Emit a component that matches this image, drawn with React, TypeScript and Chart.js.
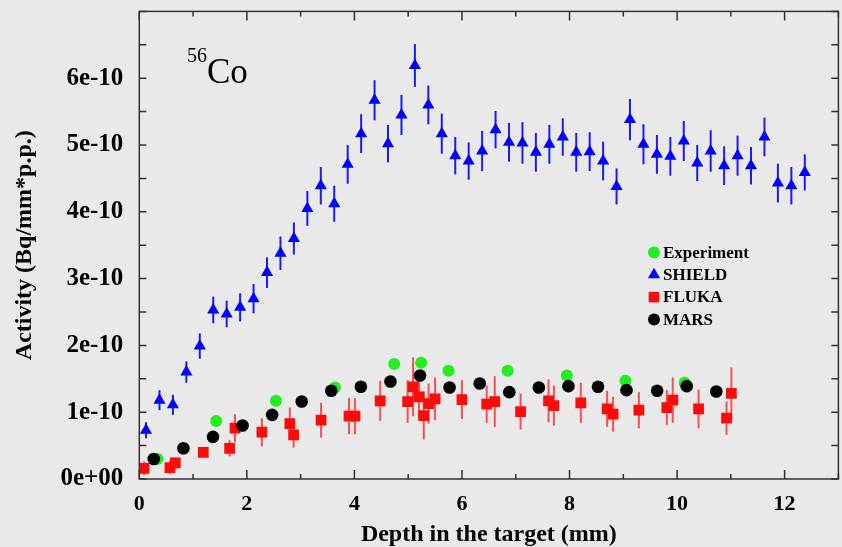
import React, { useEffect, useRef } from 'react';
import { Chart, registerables } from 'chart.js';

Chart.register(...registerables);

// Activity values are in units of 1e-10 Bq/mm per primary proton.

const experimentDepth = [0.34, 1.43, 2.54, 3.64, 4.74, 5.24, 5.75, 6.85, 7.95, 9.04, 10.14];
const experimentActivity = [0.30, 0.87, 1.17, 1.37, 1.72, 1.74, 1.62, 1.62, 1.55, 1.47, 1.44];

const shieldDepth = [
  0.125, 0.375, 0.625, 0.875, 1.125, 1.375, 1.625, 1.875, 2.125, 2.375,
  2.625, 2.875, 3.125, 3.375, 3.625, 3.875, 4.125, 4.375, 4.625, 4.875,
  5.125, 5.375, 5.625, 5.875, 6.125, 6.375, 6.625, 6.875, 7.125, 7.375,
  7.625, 7.875, 8.125, 8.375, 8.625, 8.875, 9.125, 9.375, 9.625, 9.875,
  10.125, 10.375, 10.625, 10.875, 11.125, 11.375, 11.625, 11.875, 12.125, 12.375,
];
const shieldActivity = [
  0.73, 1.18, 1.11, 1.60, 1.99, 2.53, 2.47, 2.57, 2.70, 3.09,
  3.38, 3.60, 4.05, 4.39, 4.12, 4.71, 5.17, 5.67, 5.02, 5.45,
  6.19, 5.60, 5.17, 4.84, 4.76, 4.91, 5.23, 5.04, 5.03, 4.89,
  5.01, 5.12, 4.89, 4.90, 4.76, 4.38, 5.38, 5.01, 4.86, 4.83,
  5.06, 4.73, 4.91, 4.69, 4.84, 4.69, 5.12, 4.43, 4.39, 4.59,
];
const shieldError = [
  0.12, 0.15, 0.15, 0.16, 0.19, 0.20, 0.20, 0.21, 0.22, 0.23,
  0.25, 0.24, 0.26, 0.28, 0.27, 0.29, 0.29, 0.30, 0.28, 0.30,
  0.32, 0.29, 0.30, 0.28, 0.28, 0.30, 0.28, 0.29, 0.31, 0.29,
  0.29, 0.28, 0.29, 0.29, 0.29, 0.27, 0.31, 0.30, 0.29, 0.29,
  0.30, 0.27, 0.31, 0.29, 0.30, 0.28, 0.29, 0.29, 0.28, 0.27,
];

const flukaDepth = [
  0.09, 0.57, 0.67, 1.19, 1.68, 1.78, 2.28, 2.80, 2.87, 3.38,
  3.90, 4.01, 4.48, 4.99, 5.09, 5.20, 5.29, 5.38, 5.50, 6.00,
  6.46, 6.61, 7.09, 7.61, 7.71, 8.21, 8.70, 8.81, 9.29, 9.81,
  9.92, 10.40, 10.92, 11.01,
];
const flukaActivity = [
  0.16, 0.17, 0.24, 0.40, 0.46, 0.76, 0.70, 0.83, 0.66, 0.88,
  0.94, 0.94, 1.17, 1.16, 1.38, 1.23, 0.95, 1.13, 1.20, 1.19,
  1.12, 1.16, 1.01, 1.17, 1.10, 1.14, 1.05, 0.97, 1.03, 1.07,
  1.18, 1.05, 0.91, 1.28,
];
const flukaError = [
  0.10, 0.10, 0.08, 0.06, 0.12, 0.21, 0.21, 0.24, 0.19, 0.26,
  0.27, 0.27, 0.30, 0.32, 0.44, 0.33, 0.36, 0.30, 0.32, 0.29,
  0.28, 0.38, 0.27, 0.32, 0.30, 0.30, 0.27, 0.26, 0.27, 0.26,
  0.34, 0.29, 0.25, 0.39,
];

const marsDepth = [
  0.27, 0.82, 1.37, 1.92, 2.47, 3.02, 3.57, 4.12, 4.67, 5.22,
  5.77, 6.33, 6.88, 7.43, 7.98, 8.53, 9.06, 9.63, 10.18, 10.73,
];
const marsActivity = [
  0.30, 0.46, 0.63, 0.80, 0.96, 1.16, 1.32, 1.38, 1.46, 1.55,
  1.37, 1.43, 1.30, 1.37, 1.39, 1.38, 1.33, 1.32, 1.39, 1.31,
];

const legendItems = [
  { label: 'Experiment', shape: 'circle', color: '#22ee22' },
  { label: 'SHIELD', shape: 'triangle', color: '#0000ff' },
  { label: 'FLUKA', shape: 'square', color: '#ff0a0a' },
  { label: 'MARS', shape: 'circle', color: '#000000' },
];

const SERIF = "'Liberation Serif', 'Times New Roman', serif";

function points(xs: number[], ys: number[]) {
  return xs.map((x, i) => ({ x, y: ys[i] }));
}

function drawShape(ctx: CanvasRenderingContext2D, shape: string, cx: number, cy: number, color: string) {
  ctx.fillStyle = color;
  ctx.beginPath();
  if (shape === 'circle') {
    ctx.arc(cx, cy, 6, 0, Math.PI * 2);
  } else if (shape === 'triangle') {
    ctx.moveTo(cx, cy - 7);
    ctx.lineTo(cx + 6.1, cy + 3.5);
    ctx.lineTo(cx - 6.1, cy + 3.5);
    ctx.closePath();
  } else {
    ctx.rect(cx - 5.3, cy - 5.3, 10.6, 10.6);
  }
  ctx.fill();
}

export default function App() {
  const canvasRef = useRef<HTMLCanvasElement>(null);

  useEffect(() => {
    document.body.style.margin = '0';
    const canvas = canvasRef.current;
    if (!canvas) return;

    const background = {
      id: 'background',
      beforeDraw(chart: any) {
        const { ctx, width, height } = chart;
        ctx.save();
        ctx.fillStyle = '#e9e9e9';
        ctx.fillRect(0, 0, width, height);
        ctx.restore();
      },
    };

    // vertical error bars, drawn just beneath each dataset's markers
    const errorBars = {
      id: 'errorBars',
      beforeDatasetDraw(chart: any, args: any) {
        const ds = chart.data.datasets[args.index];
        if (!ds.errors) return;
        const { ctx } = chart;
        const yScale = chart.scales.y;
        ctx.save();
        ctx.strokeStyle = ds.errorColor;
        ctx.lineWidth = 2;
        args.meta.data.forEach((el: any, i: number) => {
          const v = ds.data[i].y;
          const e = ds.errors[i];
          ctx.beginPath();
          ctx.moveTo(el.x, yScale.getPixelForValue(v + e));
          ctx.lineTo(el.x, yScale.getPixelForValue(v - e));
          ctx.stroke();
        });
        ctx.restore();
      },
    };

    // box frame with inward tick marks, isotope label and legend
    const decorations = {
      id: 'decorations',
      afterDraw(chart: any) {
        const { ctx, chartArea } = chart;
        const { left, right, top, bottom } = chartArea;
        const xs = chart.scales.x;
        const ys = chart.scales.y;
        ctx.save();
        ctx.strokeStyle = '#333333';
        ctx.lineWidth = 1.5;
        ctx.strokeRect(left, top, right - left, bottom - top);
        ctx.beginPath();
        for (let v = 0; v <= xs.max; v += 1) {
          const px = xs.getPixelForValue(v);
          const len = v % 2 === 0 ? 9 : 5;
          ctx.moveTo(px, bottom);
          ctx.lineTo(px, bottom - len);
          ctx.moveTo(px, top);
          ctx.lineTo(px, top + len);
        }
        for (let v = 0; v <= ys.max; v += 0.5) {
          const py = ys.getPixelForValue(v);
          ctx.moveTo(left, py);
          ctx.lineTo(left + 7, py);
          ctx.moveTo(right, py);
          ctx.lineTo(right - 7, py);
        }
        ctx.stroke();

        // isotope label
        ctx.fillStyle = '#000';
        ctx.textBaseline = 'alphabetic';
        ctx.textAlign = 'left';
        ctx.font = `20px ${SERIF}`;
        ctx.fillText('56', 187, 62);
        ctx.font = `35px ${SERIF}`;
        ctx.fillText('Co', 207, 83);

        // legend
        const lx = 654;
        const ly = 252.5;
        const step = 22.3;
        ctx.font = `bold 17px ${SERIF}`;
        ctx.textBaseline = 'middle';
        legendItems.forEach((item, i) => {
          const cy = ly + i * step;
          drawShape(ctx, item.shape, lx, cy, item.color);
          ctx.fillStyle = '#000';
          ctx.fillText(item.label, 663, cy + 1);
        });
        ctx.restore();
      },
    };

    const chart = new Chart(canvas, {
      type: 'scatter',
      data: {
        datasets: [
          {
            label: 'MARS',
            data: points(marsDepth, marsActivity),
            pointStyle: 'circle',
            pointRadius: 6.3,
            backgroundColor: '#000000',
            borderColor: '#000000',
            borderWidth: 0,
            order: 0,
          },
          {
            label: 'FLUKA',
            data: points(flukaDepth, flukaActivity),
            pointStyle: 'rect',
            pointRadius: 7.6,
            backgroundColor: '#ff0a0a',
            borderColor: '#ff0a0a',
            borderWidth: 0,
            order: 1,
            errors: flukaError,
            errorColor: 'rgba(255, 40, 40, 0.8)',
          } as any,
          {
            label: 'SHIELD',
            data: points(shieldDepth, shieldActivity),
            pointStyle: 'triangle',
            pointRadius: 7,
            backgroundColor: '#0000ff',
            borderColor: '#0000ff',
            borderWidth: 0,
            order: 2,
            errors: shieldError,
            errorColor: '#1a1aff',
          } as any,
          {
            label: 'Experiment',
            data: points(experimentDepth, experimentActivity),
            pointStyle: 'circle',
            pointRadius: 6,
            backgroundColor: '#22ee22',
            borderColor: '#22ee22',
            borderWidth: 0,
            order: 3,
          },
        ],
      },
      options: {
        responsive: false,
        animation: false,
        devicePixelRatio: 1,
        events: [],
        layout: { padding: { left: 0, right: 2.1, top: 11.4, bottom: 0 } },
        plugins: {
          legend: { display: false },
          tooltip: { enabled: false },
        },
        scales: {
          x: {
            type: 'linear',
            min: 0,
            max: 13,
            grid: { display: false, drawTicks: false },
            border: { display: false },
            ticks: {
              stepSize: 2,
              includeBounds: false,
              padding: 12,
              color: '#000',
              font: { family: SERIF, size: 22, weight: 'bold' },
            },
            title: {
              display: true,
              text: 'Depth in the target (mm)',
              color: '#000',
              font: { family: SERIF, size: 24, weight: 'bold' },
              padding: { top: 0, bottom: -2 },
            },
            afterFit(scale: any) {
              scale.height = 68;
              scale.paddingLeft = 0;
              scale.paddingRight = 0;
            },
          },
          y: {
            type: 'linear',
            min: 0,
            max: 7,
            grid: { display: false, drawTicks: false },
            border: { display: false },
            ticks: {
              stepSize: 1,
              padding: 16,
              color: '#000',
              font: { family: SERIF, size: 25, weight: 'bold' },
              callback: (v: any) => (Number(v) === 0 ? '0e+00' : `${v}e-10`),
            },
            afterBuildTicks(scale: any) {
              scale.ticks = scale.ticks.filter((t: any) => t.value <= 6);
            },
            title: {
              display: true,
              text: 'Activity (Bq/mm*p.p.)',
              color: '#000',
              font: { family: SERIF, size: 24, weight: 'bold' },
              padding: { top: 10, bottom: 0 },
            },
            afterFit(scale: any) {
              scale.width = 139.3;
              scale.paddingTop = 0;
              scale.paddingBottom = 0;
            },
          },
        },
      },
      plugins: [background, errorBars, decorations],
    });

    return () => chart.destroy();
  }, []);

  return (
    <div
      style={{
        position: 'fixed',
        left: 0,
        top: 0,
        width: 842,
        height: 547,
        overflow: 'hidden',
        background: '#e9e9e9',
      }}
    >
      <canvas ref={canvasRef} width={846} height={547} style={{ display: 'block', width: 846, height: 547 }} />
    </div>
  );
}
